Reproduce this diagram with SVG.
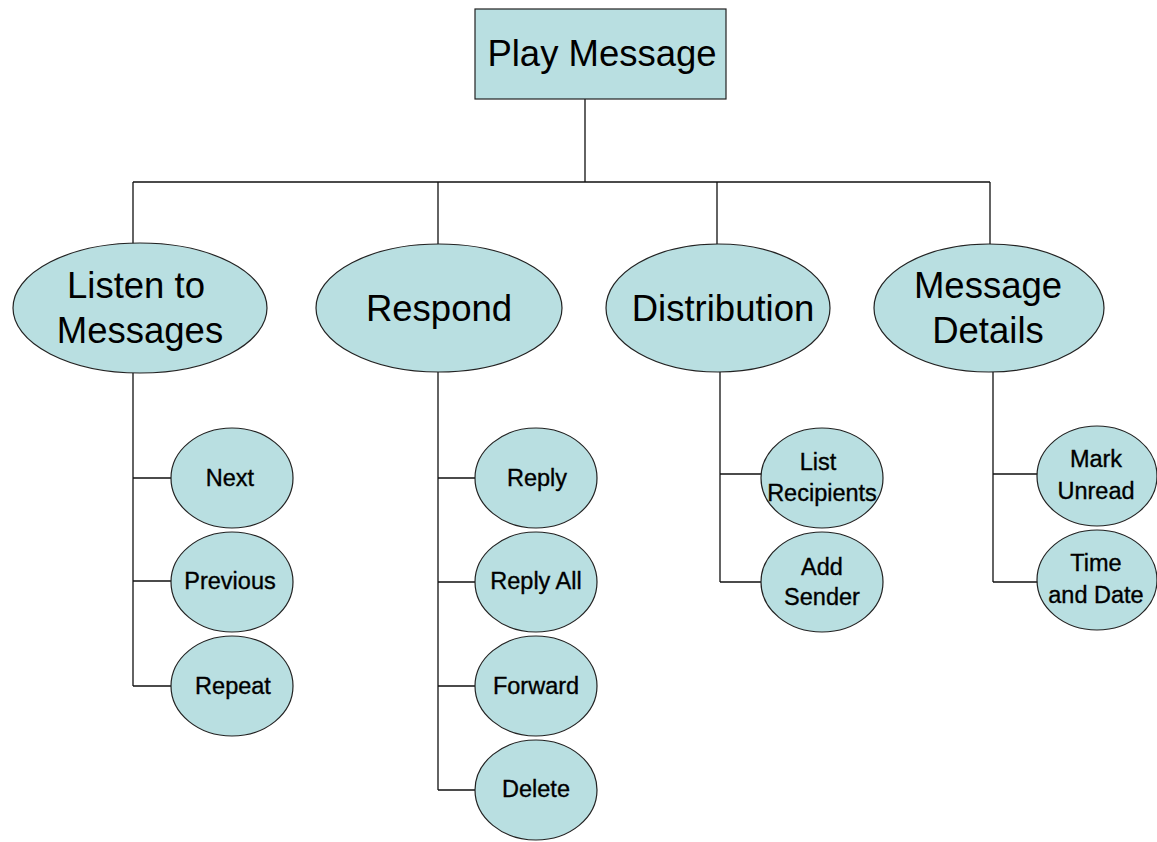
<svg xmlns="http://www.w3.org/2000/svg" width="1157" height="842" viewBox="0 0 1157 842">
  <style>
    .shape { fill: #b9dfe1; stroke: #222; stroke-width: 1.2; }
    .wire { fill: none; stroke: #111; stroke-width: 1.3; }
    text { font-family: "Liberation Sans", Arial, sans-serif; fill: #000; text-anchor: middle; }
    .big { font-size: 36.5px; }
    .small { font-size: 23.5px; stroke: #000; stroke-width: 0.35; }
  </style>
  <rect width="1157" height="842" fill="#fff"/>

  <!-- tree connectors -->
  <g id="connectors" class="wire">
    <path d="M585 99 V182 M133 182 H990 M133 182 V244 M438 182 V245 M717 182 V245 M990 182 V245"/>
    <!-- Listen to Messages branch -->
    <path d="M133 373 V686 M133 478 H171 M133 581 H171 M133 686 H171"/>
    <!-- Respond branch -->
    <path d="M438 372 V790 M438 478 H475 M438 582 H475 M438 686 H475 M438 790 H475"/>
    <!-- Distribution branch -->
    <path d="M720 372 V582 M720 474 H761 M720 582 H761"/>
    <!-- Message Details branch -->
    <path d="M993 372 V582 M993 474 H1038 M993 582 H1038"/>
  </g>

  <g id="play-message">
    <rect class="shape" x="475" y="9" width="251" height="90"/>
    <text class="big" x="602" y="66">Play Message</text>
  </g>

  <g id="listen-to-messages">
    <ellipse class="shape" cx="140" cy="308" rx="127" ry="65"/>
    <text class="big" x="136" y="298">Listen to</text>
    <text class="big" x="140" y="343">Messages</text>
  </g>
  <g id="respond">
    <ellipse class="shape" cx="439" cy="308" rx="123" ry="64"/>
    <text class="big" x="439" y="321">Respond</text>
  </g>
  <g id="distribution">
    <ellipse class="shape" cx="718" cy="308" rx="112" ry="64"/>
    <text class="big" x="723" y="321">Distribution</text>
  </g>
  <g id="message-details">
    <ellipse class="shape" cx="989" cy="308" rx="115" ry="64"/>
    <text class="big" x="988" y="298">Message</text>
    <text class="big" x="988" y="343">Details</text>
  </g>

  <g id="next">
    <ellipse class="shape" cx="232" cy="478" rx="61" ry="50"/>
    <text class="small" x="230" y="486">Next</text>
  </g>
  <g id="previous">
    <ellipse class="shape" cx="232" cy="582" rx="61" ry="50"/>
    <text class="small" x="230" y="589">Previous</text>
  </g>
  <g id="repeat">
    <ellipse class="shape" cx="232" cy="686" rx="61" ry="50"/>
    <text class="small" x="233" y="694">Repeat</text>
  </g>

  <g id="reply">
    <ellipse class="shape" cx="536" cy="478" rx="61" ry="50"/>
    <text class="small" x="537" y="486">Reply</text>
  </g>
  <g id="reply-all">
    <ellipse class="shape" cx="536" cy="582" rx="61" ry="50"/>
    <text class="small" x="536" y="589">Reply All</text>
  </g>
  <g id="forward">
    <ellipse class="shape" cx="536" cy="686" rx="61" ry="50"/>
    <text class="small" x="536" y="694">Forward</text>
  </g>
  <g id="delete">
    <ellipse class="shape" cx="536" cy="790" rx="61" ry="50"/>
    <text class="small" x="536" y="797">Delete</text>
  </g>

  <g id="list-recipients">
    <ellipse class="shape" cx="822" cy="478" rx="61" ry="50"/>
    <text class="small" x="818" y="470">List</text>
    <text class="small" x="822" y="501">Recipients</text>
  </g>
  <g id="add-sender">
    <ellipse class="shape" cx="822" cy="582" rx="61" ry="50"/>
    <text class="small" x="822" y="575">Add</text>
    <text class="small" x="822" y="605">Sender</text>
  </g>

  <g id="mark-unread">
    <ellipse class="shape" cx="1097" cy="476" rx="60" ry="50"/>
    <text class="small" x="1096" y="467">Mark</text>
    <text class="small" x="1096" y="499">Unread</text>
  </g>
  <g id="time-and-date">
    <ellipse class="shape" cx="1097" cy="580" rx="60" ry="50"/>
    <text class="small" x="1096" y="571">Time</text>
    <text class="small" x="1096" y="603">and Date</text>
  </g>
</svg>
